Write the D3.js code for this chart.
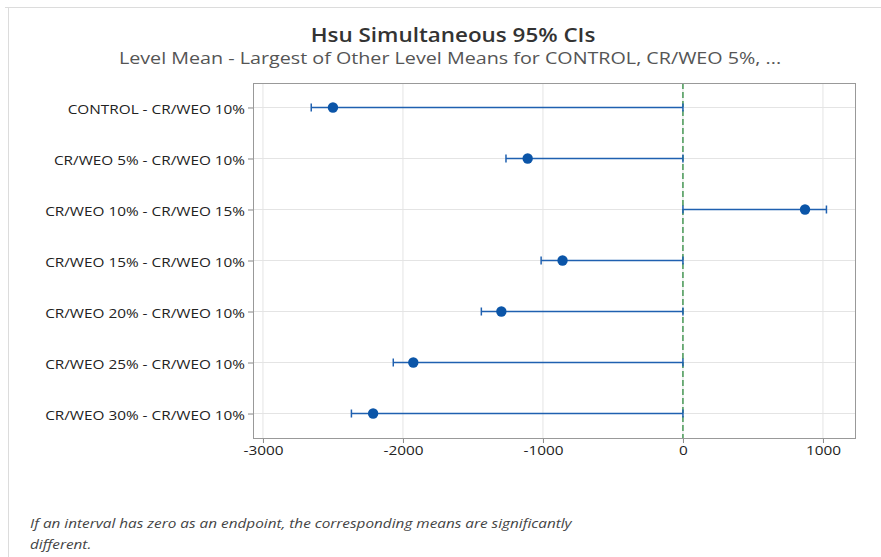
<!DOCTYPE html>
<html>
<head>
<meta charset="utf-8">
<script src="https://cdn.jsdelivr.net/npm/d3@7"></script>
<style>
  body { margin: 0; background: #fff; }
  svg { display: block; font-family: "Open Sans", "Noto Sans", sans-serif; }
</style>
</head>
<body>
<div id="chart"></div>
<script>
// comparisons, top to bottom
const comparisons = [
    "CONTROL - CR/WEO 10%",
    "CR/WEO 5% - CR/WEO 10%",
    "CR/WEO 10% - CR/WEO 15%",
    "CR/WEO 15% - CR/WEO 10%",
    "CR/WEO 20% - CR/WEO 10%",
    "CR/WEO 25% - CR/WEO 10%",
    "CR/WEO 30% - CR/WEO 10%"
];
const centers = [-2500, -1109, 872, -860, -1297, -1926, -2213];
const lowers  = [-2655, -1264, 0, -1013, -1440, -2069, -2368];
const uppers  = [0, 0, 1025, 0, 0, 0, 0];
const xTicks = [-3000, -2000, -1000, 0, 1000];

const width = 881, height = 557;
const plot = { left: 253, top: 83, right: 855, bottom: 438 };
const font = '"Open Sans", "Noto Sans", sans-serif';
// the reference text is a little wider than Open Sans, so stretch it sideways
const wide = 1.18;

const svg = d3.select('#chart').append('svg')
    .attr('width', width)
    .attr('height', height);

// text placed at (px, py) and stretched by k
function label(px, py, k) {
    return svg.append('g')
        .attr('transform', `translate(${px},${py}) scale(${k},1)`)
        .append('text');
}

// outer frame
svg.append('line').attr('x1', 5).attr('x2', width).attr('y1', 7.5).attr('y2', 7.5)
    .attr('stroke', '#dcdcdc');
svg.append('line').attr('x1', 8.5).attr('x2', 8.5).attr('y1', 7).attr('y2', height)
    .attr('stroke', '#dcdcdc');

const x = d3.scaleLinear()
    .domain([-3071, 1229])
    .range([plot.left, plot.right]);

const y = d3.scalePoint()
    .domain(comparisons)
    .range([plot.top, plot.bottom])
    .padding(0.48);

// gridlines
svg.append('g').selectAll('line')
    .data(xTicks)
    .enter().append('line')
    .attr('x1', d => x(d)).attr('x2', d => x(d))
    .attr('y1', plot.top).attr('y2', plot.bottom)
    .attr('stroke', '#e4e4e4');

svg.append('g').selectAll('line')
    .data(comparisons)
    .enter().append('line')
    .attr('x1', plot.left).attr('x2', plot.right)
    .attr('y1', d => y(d)).attr('y2', d => y(d))
    .attr('stroke', '#e4e4e4');

// zero reference
svg.append('line')
    .attr('x1', x(0)).attr('x2', x(0))
    .attr('y1', plot.top).attr('y2', plot.bottom)
    .attr('stroke', '#2e8b3e')
    .attr('stroke-width', 1.3)
    .attr('stroke-dasharray', '6,3');

// axes
const xAxis = svg.append('g')
    .attr('transform', `translate(0,${plot.bottom})`)
    .call(d3.axisBottom(x).tickValues(xTicks).tickFormat(d => String(d))
        .tickSize(5).tickPadding(3).tickSizeOuter(0));
const yAxis = svg.append('g')
    .attr('transform', `translate(${plot.left},0)`)
    .call(d3.axisLeft(y).tickSize(5).tickPadding(3).tickSizeOuter(0));

[xAxis, yAxis].forEach(a => {
    a.select('.domain').remove();
    a.selectAll('.tick line').attr('stroke', '#888');
    a.selectAll('.tick text').attr('fill', '#222').style('font-size', '13px')
        .style('font-family', font);
});
yAxis.selectAll('.tick text')
    .attr('x', -8 / wide)
    .attr('dy', '0.45em')
    .attr('transform', `scale(${wide},1)`);
xAxis.selectAll('.tick text')
    .attr('transform', `scale(${wide},1)`);

// plot border
svg.append('rect')
    .attr('x', plot.left + 0.5).attr('y', plot.top + 0.5)
    .attr('width', plot.right - plot.left)
    .attr('height', plot.bottom - plot.top)
    .attr('fill', 'none')
    .attr('stroke', '#999');

// intervals
const blue = '#0b55a8';
const rows = svg.append('g').selectAll('g')
    .data(comparisons)
    .enter().append('g');

rows.append('line')
    .attr('x1', (d, i) => x(lowers[i])).attr('x2', (d, i) => x(uppers[i]))
    .attr('y1', d => y(d)).attr('y2', d => y(d))
    .attr('stroke', '#1f60b0').attr('stroke-width', 1.5);

rows.append('line')
    .attr('x1', (d, i) => x(lowers[i])).attr('x2', (d, i) => x(lowers[i]))
    .attr('y1', d => y(d) - 4).attr('y2', d => y(d) + 4)
    .attr('stroke', '#1f60b0').attr('stroke-width', 1.5);

rows.append('line')
    .attr('x1', (d, i) => x(uppers[i])).attr('x2', (d, i) => x(uppers[i]))
    .attr('y1', d => y(d) - 4).attr('y2', d => y(d) + 4)
    .attr('stroke', '#1f60b0').attr('stroke-width', 1.5);

rows.append('circle')
    .attr('cx', (d, i) => x(centers[i]))
    .attr('cy', d => y(d))
    .attr('r', 5.2)
    .attr('fill', blue);

// titles
label(453, 42, 1.15)
    .attr('text-anchor', 'middle')
    .style('font-size', '19.5px').style('font-weight', 600)
    .attr('fill', '#333')
    .text('Hsu Simultaneous 95% CIs');

label(450, 64, 1.195)
    .attr('text-anchor', 'middle')
    .style('font-size', '16.5px')
    .attr('fill', '#555')
    .text('Level Mean - Largest of Other Level Means for CONTROL, CR/WEO 5%, ...');

// footnote
label(30, 528, 1.225)
    .style('font-size', '12.5px').style('font-style', 'italic')
    .attr('fill', '#444')
    .text('If an interval has zero as an endpoint, the corresponding means are significantly');
label(30, 549, 1.225)
    .style('font-size', '12.5px').style('font-style', 'italic')
    .attr('fill', '#444')
    .text('different.');
</script>
</body>
</html>
